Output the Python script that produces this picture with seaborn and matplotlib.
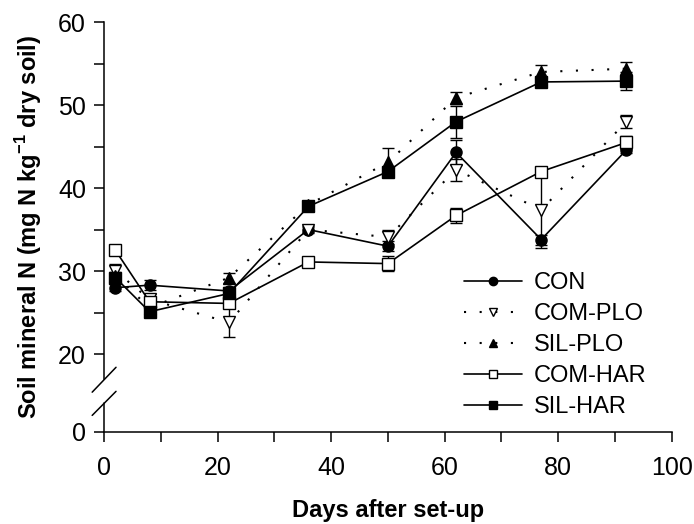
import numpy as np
import pandas as pd
import matplotlib
matplotlib.use("Agg")
import matplotlib.pyplot as plt
import matplotlib.transforms as mtransforms
import seaborn as sns

# values (mean, error bar half-width)
days = [2, 8, 22, 36, 50, 62, 77, 92]

con = [28.0, 28.3, 27.6, 35.0, 33.0, 44.3, 33.8, 44.6]
con_err = [0.4, 0.6, 0.5, 0.4, 0.6, 1.5, 0.6, 0.4]

com_plo = [30.0, 26.6, 23.8, 35.0, 34.1, 42.2, 37.4, 48.0]
com_plo_err = [0.9, 0.6, 1.8, 0.3, 0.8, 1.3, 4.6, 0.8]

sil_plo = [29.4, 25.6, 29.2, 38.0, 43.1, 50.9, 54.0, 54.4]
sil_plo_err = [0.5, 0.4, 0.6, 0.4, 1.7, 0.7, 0.9, 0.8]

com_har = [32.5, 26.3, 26.1, 31.1, 30.9, 36.7, 42.0, 45.5]
com_har_err = [0.5, 0.5, 0.5, 0.3, 0.9, 0.9, 0.4, 0.8]

sil_har = [29.2, 25.1, 27.3, 37.8, 42.0, 48.0, 52.8, 52.9]
sil_har_err = [0.5, 0.4, 0.5, 0.4, 0.5, 1.9, 0.4, 1.1]

labels = ["CON", "COM-PLO", "SIL-PLO", "COM-HAR", "SIL-HAR"]
means = [con, com_plo, sil_plo, com_har, sil_har]
errs = [con_err, com_plo_err, sil_plo_err, com_har_err, sil_har_err]

# where "0" sits on the broken axis
y_zero = 10.6

sns.set_style("ticks")
plt.rcParams["font.family"] = ["Liberation Sans", "DejaVu Sans"]
plt.rcParams["mathtext.fontset"] = "custom"
plt.rcParams["mathtext.rm"] = "Liberation Sans"
plt.rcParams["mathtext.bf"] = "Liberation Sans:bold"
plt.rcParams["text.color"] = "black"
plt.rcParams["axes.labelcolor"] = "black"
plt.rcParams["xtick.color"] = "black"
plt.rcParams["ytick.color"] = "black"

rows = []
for lab, m, e in zip(labels, means, errs):
    for d, v, s in zip(days, m, e):
        rows.append({"day": d, "N": v, "err": s, "treat": lab})
df = pd.DataFrame(rows)

styles = {
    "CON": dict(marker="o", mfc="black", ls="-"),
    "COM-PLO": dict(marker="v", mfc="white", ls=(0, (1, 6.5))),
    "SIL-PLO": dict(marker="^", mfc="black", ls=(0, (1, 6.5))),
    "COM-HAR": dict(marker="s", mfc="white", ls="-"),
    "SIL-HAR": dict(marker="s", mfc="black", ls="-"),
}

fig = plt.figure(figsize=(6.94, 5.24), dpi=100)
ax = fig.add_axes([0.150, 0.1756, 0.818, 0.782])

for lab in labels:
    sub = df[df["treat"] == lab]
    st = styles[lab]
    ax.errorbar(sub["day"], sub["N"], yerr=sub["err"], fmt="none", ecolor="black",
                elinewidth=1.0, capsize=4.5, capthick=1.0, zorder=2)
    lw = 1.5 if st["ls"] != "-" else 1.2
    sns.lineplot(data=sub, x="day", y="N", ax=ax, color="black", label=lab,
                 linestyle=st["ls"], linewidth=lw, marker=st["marker"],
                 markersize=8, markerfacecolor=st["mfc"], markeredgecolor="black",
                 markeredgewidth=1.0, zorder=3)

ax.set_xlim(0, 100)
ax.set_ylim(y_zero, 60)
ax.set_xticks([0, 20, 40, 60, 80, 100])
ax.set_xticks([10, 30, 50, 70, 90], minor=True)
ax.set_yticks([y_zero, 20, 30, 40, 50, 60])
ax.set_yticklabels(["0", "20", "30", "40", "50", "60"])
ax.set_yticks([25, 35, 45, 55], minor=True)
ax.tick_params(which="both", direction="out", length=7, width=1.1,
               labelsize=18, color="black", labelcolor="black")
ax.tick_params(axis="x", pad=10)
ax.tick_params(axis="y", pad=6)

ax.set_xlabel("Days after set-up", fontsize=17, fontweight="bold", labelpad=14)
ax.set_ylabel("Soil mineral N (mg N kg$^{\\mathbf{-1}}$ dry soil)", fontsize=17,
              fontweight="bold", labelpad=10)

sns.despine(ax=ax)
for sp in ["left", "bottom"]:
    ax.spines[sp].set_linewidth(1.1)
    ax.spines[sp].set_color("black")

# axis break on the y spine
ax.spines["left"].set_bounds(17.0, 60)
tr = mtransforms.blended_transform_factory(ax.transAxes, ax.transData)
ax.plot([0, 0], [y_zero, 14.1], transform=tr, color="black", lw=1.1, clip_on=False)
ax.plot([-2.1, 2.1], [15.4, 18.4], color="black", lw=1.1, clip_on=False)
ax.plot([-2.1, 2.1], [12.6, 15.5], color="black", lw=1.1, clip_on=False)

leg = ax.legend(loc="upper left", bbox_to_anchor=(0.618, 0.413), frameon=False,
                fontsize=17, handlelength=2.45, handletextpad=0.5,
                labelspacing=0.38, markerscale=0.75, borderaxespad=0)

fig.savefig("out.png", dpi=100)
